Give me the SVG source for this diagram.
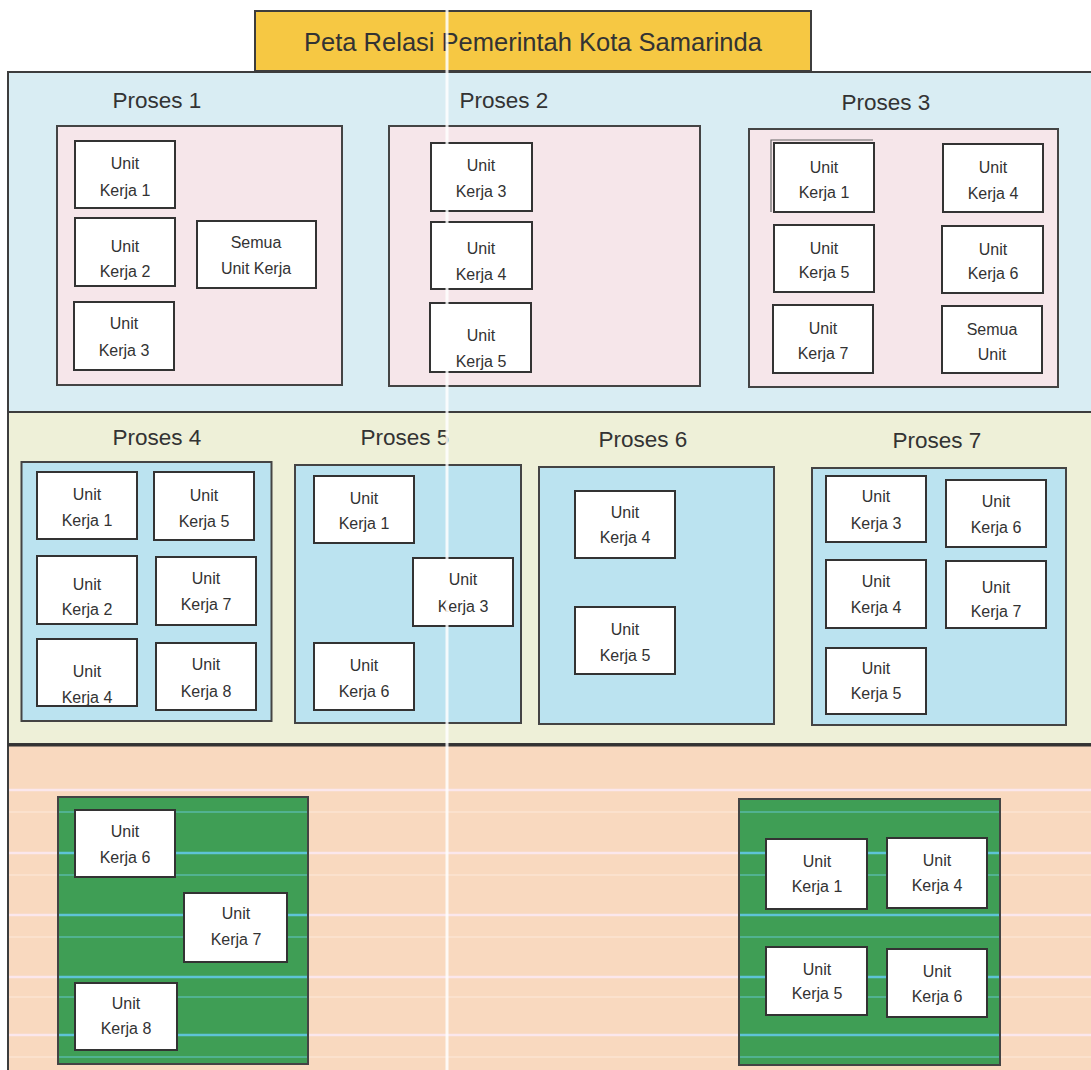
<svg xmlns="http://www.w3.org/2000/svg" width="1091" height="1070" viewBox="0 0 1091 1070">
<style>
.sec{stroke:#3d3d3d;stroke-width:2}
.pb{stroke:#444;stroke-width:2}
.pink{fill:#F6E6EA}
.sky{fill:#BBE3F0}
.grn{fill:#3F9E55}
.u{fill:#fff;stroke:#333;stroke-width:2}
.t{font-family:"Liberation Sans",Arial,sans-serif;font-size:16px;fill:#333;text-anchor:middle}
.lbl{font-family:"Liberation Sans",Arial,sans-serif;font-size:22.5px;fill:#333;text-anchor:middle}
.ttl{font-family:"Liberation Sans",Arial,sans-serif;font-size:25.5px;fill:#333;text-anchor:middle}
.sp{stroke:#FBE7EC;stroke-width:2.5}
.sf{stroke:#FBE3D2;stroke-width:1.5}
.cy{stroke:#5EC3D6;stroke-width:2.5}
.cf{stroke:#58B8A6;stroke-width:1.5}
</style>
<rect width="1091" height="1070" fill="#fff"/>
<g id="section1"><rect class="sec" x="8" y="72" width="1090" height="340" fill="#D9EDF3"/></g>
<g id="section2"><rect class="sec" x="8" y="412" width="1090" height="332" fill="#EEF0D8"/></g>
<g id="section3"><rect class="sec" x="8" y="745" width="1090" height="330" fill="#F9D9BF"/>
<line x1="8" y1="745" x2="1091" y2="745" stroke="#333" stroke-width="3"/>
<g id="stripes">
<line class="sp" x1="9" y1="790" x2="1091" y2="790"/>
<line class="sp" x1="9" y1="853" x2="1091" y2="853"/>
<line class="sp" x1="9" y1="915" x2="1091" y2="915"/>
<line class="sp" x1="9" y1="977" x2="1091" y2="977"/>
<line class="sp" x1="9" y1="1035" x2="1091" y2="1035"/>
<line class="sf" x1="9" y1="812" x2="1091" y2="812"/>
<line class="sf" x1="9" y1="875" x2="1091" y2="875"/>
<line class="sf" x1="9" y1="937" x2="1091" y2="937"/>
<line class="sf" x1="9" y1="997" x2="1091" y2="997"/>
<line class="sf" x1="9" y1="1057" x2="1091" y2="1057"/>
</g>
</g>
<g id="title"><rect x="255" y="11" width="556" height="60" fill="#F6C843" stroke="#3d3d3d" stroke-width="2"/>
<text class="ttl" x="533" y="51">Peta Relasi Pemerintah Kota Samarinda</text></g>

<g id="proses1"><text class="lbl" x="157" y="108">Proses 1</text>
<rect class="pb pink" x="57" y="126" width="285" height="259"/>
<g id="p1u1"><rect class="u" x="75" y="141" width="100" height="67"/><text class="t" x="125" y="169">Unit</text><text class="t" x="125" y="196">Kerja 1</text></g>
<g id="p1u2"><rect class="u" x="75" y="218" width="100" height="68"/><text class="t" x="125" y="252">Unit</text><text class="t" x="125" y="277">Kerja 2</text></g>
<g id="p1u3"><rect class="u" x="74" y="302" width="100" height="68"/><text class="t" x="124" y="329">Unit</text><text class="t" x="124" y="356">Kerja 3</text></g>
<g id="p1semua"><rect class="u" x="197" y="221" width="119" height="67"/><text class="t" x="256" y="248">Semua</text><text class="t" x="256" y="274">Unit Kerja</text></g>
</g>

<g id="proses2"><text class="lbl" x="504" y="108">Proses 2</text>
<rect class="pb pink" x="389" y="126" width="311" height="260"/>
<g id="p2u3"><rect class="u" x="431" y="143" width="101" height="68"/><text class="t" x="481" y="171">Unit</text><text class="t" x="481" y="197">Kerja 3</text></g>
<g id="p2u4"><rect class="u" x="431" y="222" width="101" height="67"/><text class="t" x="481" y="254">Unit</text><text class="t" x="481" y="280">Kerja 4</text></g>
<g id="p2u5"><rect class="u" x="430" y="303" width="101" height="69"/><text class="t" x="481" y="341">Unit</text><text class="t" x="481" y="367">Kerja 5</text></g>
</g>

<g id="proses3"><text class="lbl" x="886" y="110">Proses 3</text>
<rect class="pb pink" x="749" y="129" width="309" height="258"/>
<g id="p3u1"><path d="M771,212 V140 H873" fill="none" stroke="#666" stroke-width="1.2"/><rect class="u" x="774" y="143" width="100" height="69"/><text class="t" x="824" y="173">Unit</text><text class="t" x="824" y="198">Kerja 1</text></g>
<g id="p3u4"><rect class="u" x="943" y="144" width="100" height="68"/><text class="t" x="993" y="173">Unit</text><text class="t" x="993" y="199">Kerja 4</text></g>
<g id="p3u5"><rect class="u" x="774" y="225" width="100" height="67"/><text class="t" x="824" y="254">Unit</text><text class="t" x="824" y="278">Kerja 5</text></g>
<g id="p3u6"><rect class="u" x="942" y="226" width="101" height="67"/><text class="t" x="993" y="255">Unit</text><text class="t" x="993" y="279">Kerja 6</text></g>
<g id="p3u7"><rect class="u" x="773" y="305" width="100" height="68"/><text class="t" x="823" y="334">Unit</text><text class="t" x="823" y="359">Kerja 7</text></g>
<g id="p3semua"><rect class="u" x="942" y="306" width="100" height="67"/><text class="t" x="992" y="335">Semua</text><text class="t" x="992" y="360">Unit</text></g>
</g>

<g id="proses4"><text class="lbl" x="157" y="445">Proses 4</text>
<rect class="pb sky" x="21.5" y="462" width="250" height="259"/>
<g id="p4u1"><rect class="u" x="37" y="472" width="100" height="67"/><text class="t" x="87" y="500">Unit</text><text class="t" x="87" y="526">Kerja 1</text></g>
<g id="p4u5"><rect class="u" x="154" y="472" width="100" height="68"/><text class="t" x="204" y="501">Unit</text><text class="t" x="204" y="527">Kerja 5</text></g>
<g id="p4u2"><rect class="u" x="37" y="556" width="100" height="68"/><text class="t" x="87" y="590">Unit</text><text class="t" x="87" y="615">Kerja 2</text></g>
<g id="p4u7"><rect class="u" x="156" y="557" width="100" height="68"/><text class="t" x="206" y="584">Unit</text><text class="t" x="206" y="610">Kerja 7</text></g>
<g id="p4u4"><rect class="u" x="37" y="639" width="100" height="67"/><text class="t" x="87" y="677">Unit</text><text class="t" x="87" y="703">Kerja 4</text></g>
<g id="p4u8"><rect class="u" x="156" y="643" width="100" height="67"/><text class="t" x="206" y="670">Unit</text><text class="t" x="206" y="697">Kerja 8</text></g>
</g>

<g id="proses5"><text class="lbl" x="405" y="445">Proses 5</text>
<rect class="pb sky" x="295" y="465" width="226" height="258"/>
<g id="p5u1"><rect class="u" x="314" y="476" width="100" height="67"/><text class="t" x="364" y="504">Unit</text><text class="t" x="364" y="529">Kerja 1</text></g>
<g id="p5u3"><rect class="u" x="413" y="558" width="100" height="68"/><text class="t" x="463" y="585">Unit</text><text class="t" x="463" y="612">Kerja 3</text></g>
<g id="p5u6"><rect class="u" x="314" y="643" width="100" height="67"/><text class="t" x="364" y="671">Unit</text><text class="t" x="364" y="697">Kerja 6</text></g>
</g>

<g id="proses6"><text class="lbl" x="643" y="447">Proses 6</text>
<rect class="pb sky" x="539" y="467" width="235" height="257"/>
<g id="p6u4"><rect class="u" x="575" y="491" width="100" height="67"/><text class="t" x="625" y="518">Unit</text><text class="t" x="625" y="543">Kerja 4</text></g>
<g id="p6u5"><rect class="u" x="575" y="607" width="100" height="67"/><text class="t" x="625" y="635">Unit</text><text class="t" x="625" y="661">Kerja 5</text></g>
</g>

<g id="proses7"><text class="lbl" x="937" y="448">Proses 7</text>
<rect class="pb sky" x="812" y="468" width="254" height="257"/>
<g id="p7u3"><rect class="u" x="826" y="476" width="100" height="66"/><text class="t" x="876" y="502">Unit</text><text class="t" x="876" y="529">Kerja 3</text></g>
<g id="p7u6"><rect class="u" x="946" y="480" width="100" height="67"/><text class="t" x="996" y="507">Unit</text><text class="t" x="996" y="533">Kerja 6</text></g>
<g id="p7u4"><rect class="u" x="826" y="560" width="100" height="68"/><text class="t" x="876" y="587">Unit</text><text class="t" x="876" y="613">Kerja 4</text></g>
<g id="p7u7"><rect class="u" x="946" y="561" width="100" height="67"/><text class="t" x="996" y="593">Unit</text><text class="t" x="996" y="617">Kerja 7</text></g>
<g id="p7u5"><rect class="u" x="826" y="648" width="100" height="66"/><text class="t" x="876" y="674">Unit</text><text class="t" x="876" y="699">Kerja 5</text></g>
</g>

<g id="grupA">
<rect class="pb grn" x="58" y="797" width="250" height="267"/>
<line class="cf" x1="59" y1="812" x2="307" y2="812"/>
<line class="cy" x1="59" y1="853" x2="307" y2="853"/>
<line class="cf" x1="59" y1="875" x2="307" y2="875"/>
<line class="cy" x1="59" y1="915" x2="307" y2="915"/>
<line class="cf" x1="59" y1="937" x2="307" y2="937"/>
<line class="cy" x1="59" y1="977" x2="307" y2="977"/>
<line class="cf" x1="59" y1="997" x2="307" y2="997"/>
<line class="cy" x1="59" y1="1035" x2="307" y2="1035"/>
<line class="cf" x1="59" y1="1057" x2="307" y2="1057"/>
<g id="au6"><rect class="u" x="75" y="810" width="100" height="67"/><text class="t" x="125" y="837">Unit</text><text class="t" x="125" y="863">Kerja 6</text></g>
<g id="au7"><rect class="u" x="184" y="893" width="103" height="69"/><text class="t" x="236" y="919">Unit</text><text class="t" x="236" y="945">Kerja 7</text></g>
<g id="au8"><rect class="u" x="75" y="983" width="102" height="67"/><text class="t" x="126" y="1009">Unit</text><text class="t" x="126" y="1034">Kerja 8</text></g>
</g>

<g id="grupB">
<rect class="pb grn" x="739" y="799" width="261" height="266"/>
<line class="cf" x1="740" y1="812" x2="999" y2="812"/>
<line class="cy" x1="740" y1="853" x2="999" y2="853"/>
<line class="cf" x1="740" y1="875" x2="999" y2="875"/>
<line class="cy" x1="740" y1="915" x2="999" y2="915"/>
<line class="cf" x1="740" y1="937" x2="999" y2="937"/>
<line class="cy" x1="740" y1="977" x2="999" y2="977"/>
<line class="cf" x1="740" y1="997" x2="999" y2="997"/>
<line class="cy" x1="740" y1="1035" x2="999" y2="1035"/>
<line class="cf" x1="740" y1="1057" x2="999" y2="1057"/>
<g id="bu1"><rect class="u" x="766" y="839" width="101" height="70"/><text class="t" x="817" y="867">Unit</text><text class="t" x="817" y="892">Kerja 1</text></g>
<g id="bu4"><rect class="u" x="887" y="838" width="100" height="70"/><text class="t" x="937" y="866">Unit</text><text class="t" x="937" y="891">Kerja 4</text></g>
<g id="bu5"><rect class="u" x="766" y="947" width="101" height="68"/><text class="t" x="817" y="975">Unit</text><text class="t" x="817" y="999">Kerja 5</text></g>
<g id="bu6"><rect class="u" x="887" y="949" width="100" height="68"/><text class="t" x="937" y="977">Unit</text><text class="t" x="937" y="1002">Kerja 6</text></g>
</g>

<line id="scanline" x1="447" y1="0" x2="447" y2="1070" stroke="#fff" stroke-width="3" opacity="0.85"/>
</svg>
